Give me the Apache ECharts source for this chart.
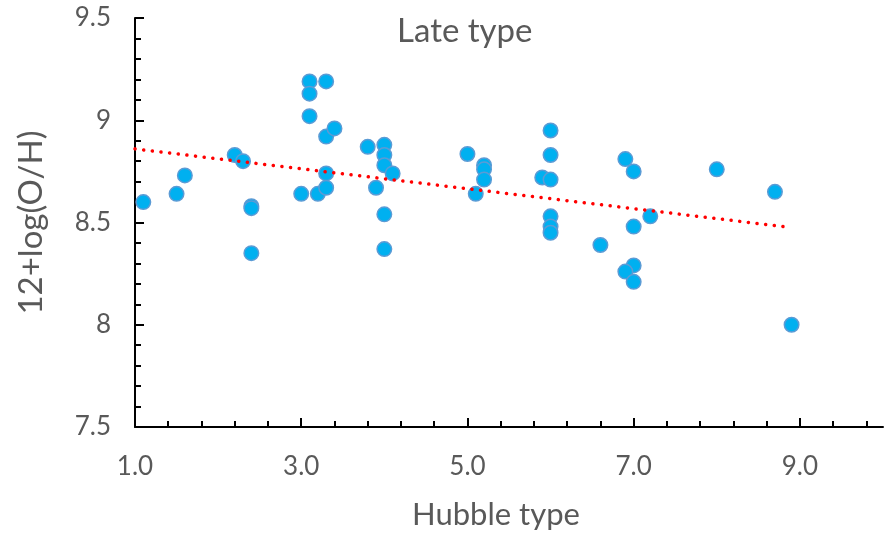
<!DOCTYPE html>
<html><head><meta charset="utf-8">
<script src="https://cdn.jsdelivr.net/npm/echarts@6/dist/echarts.min.js"></script>
<style>html,body{margin:0;padding:0;background:#fff}#c{width:890px;height:535px}</style>
</head><body><div id="c"></div>
<script>
// Hubble type (x) and 12+log(O/H) (y)
const hubbleType = [1.1,1.5,1.6,2.2,2.3,2.4,2.4,2.4,
  3.0,3.1,3.1,3.1,3.2,3.3,3.3,3.4,3.3,3.3,
  3.8,3.9,4.0,4.0,4.0,4.1,4.0,4.0,
  5.0,5.1,5.2,5.2,5.2,
  5.9,6.0,6.0,6.0,6.0,6.0,6.0,
  6.6,6.9,7.0,7.2,7.0,7.0,6.9,7.0,
  8.0,8.7,8.9];
const oxygenAbundance = [8.60,8.64,8.73,8.83,8.80,8.58,8.57,8.35,
  8.64,9.19,9.13,9.02,8.64,9.19,8.92,8.96,8.74,8.67,
  8.87,8.67,8.88,8.83,8.78,8.74,8.54,8.37,
  8.835,8.64,8.78,8.76,8.71,
  8.72,8.95,8.83,8.71,8.53,8.48,8.45,
  8.39,8.81,8.75,8.53,8.48,8.29,8.26,8.21,
  8.76,8.65,8.00];
// Linear trendline end points
const trendX = [1.0, 8.8];
const trendY = [8.86, 8.48];
// Tick labels
const xTickLabels = [1, 3, 5, 7, 9];
const yTickLabels = [7.5, 8, 8.5, 9, 9.5];
const xMinorStep = 0.4;

const points = hubbleType.map((x, i) => [x, oxygenAbundance[i]]);
const trend = trendX.map((x, i) => [x, trendY[i]]);
const xMinorTicks = [];
for (let k = 0; k <= 22; k++) { if (k % 5 !== 0) xMinorTicks.push(+(1 + k * xMinorStep).toFixed(2)); }

const FONT = 'Lato';
const GREY = '#595959';
const chart = echarts.init(document.getElementById('c'), null, {renderer: 'canvas'});
chart.setOption({
  backgroundColor: '#fff',
  animation: false,
  title: {
    text: 'Late type', left: 392, top: 10,
    textStyle: {fontFamily: FONT, fontSize: 33, fontWeight: 'normal', color: GREY}
  },
  grid: {left: 135, right: 7, top: 18, bottom: 107},
  xAxis: [{
    type: 'value', min: 1, max: 10,
    name: 'Hubble type', nameLocation: 'middle', nameGap: 72,
    nameTextStyle: {fontFamily: FONT, fontSize: 31, color: GREY, padding: [0, 26, 0, 0]},
    axisLine: {show: true, onZero: false, lineStyle: {color: '#000', width: 2}},
    axisTick: {show: true, inside: true, length: 6, customValues: xMinorTicks, lineStyle: {color: '#000', width: 2}},
    axisLabel: {show: true, customValues: xTickLabels, margin: 27, fontFamily: FONT, fontSize: 26, color: GREY,
      formatter: v => v.toFixed(1)},
    splitLine: {show: false}
  }, {
    type: 'value', min: 1, max: 10, position: 'bottom',
    axisLine: {show: false, onZero: false},
    axisTick: {show: true, inside: true, length: 9, customValues: xTickLabels, lineStyle: {color: '#000', width: 2}},
    axisLabel: {show: false},
    splitLine: {show: false}
  }],
  yAxis: {
    type: 'value', min: 7.5, max: 9.5, interval: 0.5,
    name: '12+log(O/H)', nameLocation: 'middle', nameGap: 87,
    nameTextStyle: {fontFamily: FONT, fontSize: 33, color: GREY},
    axisLine: {show: true, onZero: false, lineStyle: {color: '#000', width: 2}},
    axisTick: {show: true, inside: true, length: 9, lineStyle: {color: '#000', width: 2}},
    minorTick: {show: true, splitNumber: 5, length: 6, lineStyle: {color: '#000', width: 2}},
    axisLabel: {margin: 24, fontFamily: FONT, fontSize: 26, color: GREY},
    splitLine: {show: false}
  },
  series: [{
    type: 'scatter', xAxisIndex: 0, data: points,
    symbol: 'circle', symbolSize: 14.5,
    itemStyle: {color: '#00B0F0', borderColor: '#5B9BD5', borderWidth: 1.5, opacity: 1}
  }, {
    type: 'line', xAxisIndex: 0, data: trend, symbol: 'none', silent: true,
    lineStyle: {color: '#FF0000', width: 3.5, type: [0.1, 8.6], cap: 'round'}
  }]
});
</script></body></html>
